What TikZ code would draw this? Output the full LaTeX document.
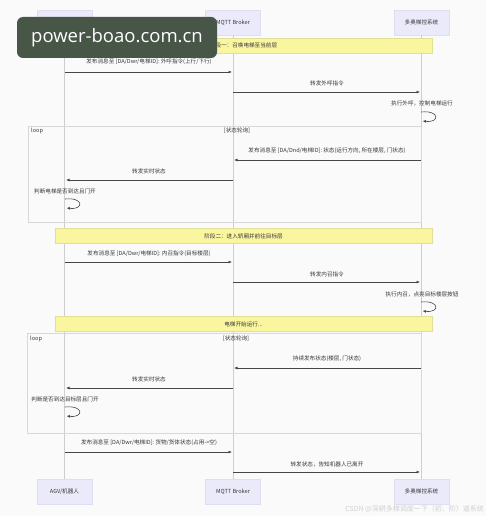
\documentclass[tikz,border=0pt]{standalone}
\usepackage{fontspec}
\setmainfont{Noto Sans CJK SC}
\newfontfamily\wmfont{Open Sans}
\usetikzlibrary{arrows.meta}
\definecolor{bgc}{RGB}{250,250,251}
\definecolor{actorfill}{RGB}{234,234,250}
\definecolor{actorborder}{RGB}{222,222,240}
\definecolor{notefill}{RGB}{250,246,160}
\definecolor{noteborder}{RGB}{225,222,150}
\definecolor{lifec}{RGB}{205,205,210}
\definecolor{msgc}{RGB}{70,70,70}
\definecolor{txtc}{RGB}{55,55,55}
\definecolor{loopc}{RGB}{215,215,220}
\definecolor{wmbg}{RGB}{72,86,72}
\newcommand{\fsm}{\fontsize{5.6}{6.5}\selectfont}
\tikzset{
  actor/.style={fill=actorfill, draw=actorborder, line width=0.4pt, minimum width=55, minimum height=25, inner sep=0, font=\fsm, text=txtc},
  life/.style={draw=lifec, line width=0.5pt},
  msg/.style={draw=msgc, line width=0.6pt, -{Latex[length=3.5pt,width=2.8pt]}},
  lbl/.style={font=\fsm, text=txtc, inner sep=0},
  note/.style={fill=notefill, draw=noteborder, line width=0.4pt, minimum width=377, minimum height=15, inner sep=0, font=\fsm, text=txtc},
  loopbox/.style={draw=loopc, line width=0.5pt}
}
\begin{document}
\begin{tikzpicture}[x=1pt,y=-1pt]
\path[use as bounding box, fill=bgc] (0,0) rectangle (486,516);
% actors
\node[actor] (a1) at (64.5,22.5) {AGV/机器人};
\node[actor] (b1) at (233,22.5) {MQTT Broker};
\node[actor] (c1) at (421.5,22.5) {多奥梯控系统};
\node[actor] (a2) at (64.5,491.5) {AGV/机器人};
\node[actor] (b2) at (233,491.5) {MQTT Broker};
\node[actor] (c2) at (421.5,491.5) {多奥梯控系统};
\draw[life] (a1) -- (a2);
\draw[life] (b1) -- (b2);
\draw[life] (c1) -- (c2);
% loop frames
\draw[loopbox] (28,126) rectangle (421,222);
\node[lbl, anchor=west] (l1) at (31,131) {loop};
\node[lbl] (l1c) at (237,131) {[状态轮询]};
\draw[loopbox] (27,333) rectangle (421,433);
\node[lbl, anchor=west] (l2) at (30,339) {loop};
\node[lbl] (l2c) at (236,339) {[状态轮询]};
% phase 1
\node[note] (n1) at (243.5,45.5) {阶段一：召唤电梯至当前层};
\coordinate (m1s) at (65,72); \coordinate (m1e) at (232,72);
\draw[msg] (m1s) -- (m1e);
\node[lbl] (t1) at (149,62) {发布消息至 [DA/Dwr/电梯ID]: 外呼指令(上行/下行)};
\coordinate (m2s) at (233,92); \coordinate (m2e) at (420,92);
\draw[msg] (m2s) -- (m2e);
\node[lbl] (t2) at (327,83) {转发外呼指令};
\node[lbl] (t3) at (422,103) {执行外呼，控制电梯运行};
\coordinate (s1a) at (421,112); \coordinate (s1b) at (422.5,121);
\draw[msg] (s1a) .. controls (440,110) and (440,123) .. (s1b);
% loop 1 messages
\coordinate (m3s) at (421,160); \coordinate (m3e) at (234,160);
\draw[msg] (m3s) -- (m3e);
\node[lbl] (t4) at (327,151) {发布消息至 [DA/Dnd/电梯ID]: 状态(运行方向, 所在楼层, 门状态)};
\coordinate (m4s) at (233,180); \coordinate (m4e) at (66,180);
\draw[msg] (m4s) -- (m4e);
\node[lbl] (t5) at (149,171) {转发实时状态};
\node[lbl] (t6) at (65,191) {判断电梯是否到达且门开};
\coordinate (s2a) at (65,199); \coordinate (s2b) at (66.5,208);
\draw[msg] (s2a) .. controls (84,197) and (84,210) .. (s2b);
% phase 2
\node[note] (n2) at (243.5,236) {阶段二：进入轿厢并前往目标层};
\coordinate (m5s) at (65,262); \coordinate (m5e) at (232,262);
\draw[msg] (m5s) -- (m5e);
\node[lbl] (t7) at (149,254) {发布消息至 [DA/Dwr/电梯ID]: 内召指令(目标楼层)};
\coordinate (m6s) at (233,282); \coordinate (m6e) at (420,282);
\draw[msg] (m6s) -- (m6e);
\node[lbl] (t8) at (327,274) {转发内召指令};
\node[lbl] (t9) at (422,294) {执行内召，点亮目标楼层按钮};
\coordinate (s3a) at (421,302); \coordinate (s3b) at (422.5,311);
\draw[msg] (s3a) .. controls (440,300) and (440,313) .. (s3b);
\node[note] (n3) at (243.5,324) {电梯开始运行...};
% loop 2 messages
\coordinate (m7s) at (421,368); \coordinate (m7e) at (234,368);
\draw[msg] (m7s) -- (m7e);
\node[lbl] (t10) at (327,359) {持续发布状态(楼层, 门状态)};
\coordinate (m8s) at (233,388); \coordinate (m8e) at (66,388);
\draw[msg] (m8s) -- (m8e);
\node[lbl] (t11) at (149,379) {转发实时状态};
\node[lbl] (t12) at (65,399) {判断是否到达目标层且门开};
\coordinate (s4a) at (65,407); \coordinate (s4b) at (66.5,416);
\draw[msg] (s4a) .. controls (84,405) and (84,418) .. (s4b);
% final
\coordinate (m9s) at (65,452); \coordinate (m9e) at (232,452);
\draw[msg] (m9s) -- (m9e);
\node[lbl] (t13) at (149,443) {发布消息至 [DA/Dwr/电梯ID]: 货物/货体状态(占用->空)};
\coordinate (m10s) at (233,472); \coordinate (m10e) at (420,472);
\draw[msg] (m10s) -- (m10e);
\node[lbl] (t14) at (327,464) {转发状态，告知机器人已离开};
% watermarks
\node[lbl, text=black!18, font=\fontsize{7}{8}\selectfont, anchor=east] (csdn) at (484,509) {CSDN @深耕多梯调度一下（初、阶）道系统};
\node[fill=wmbg, rounded corners=6pt, minimum width=200, minimum height=41, inner sep=0, text=white, font=\wmfont\fontsize{18.5}{20}\selectfont] (wm) at (117,37.5) {power-boao.com.cn};
\end{tikzpicture}
\end{document}
